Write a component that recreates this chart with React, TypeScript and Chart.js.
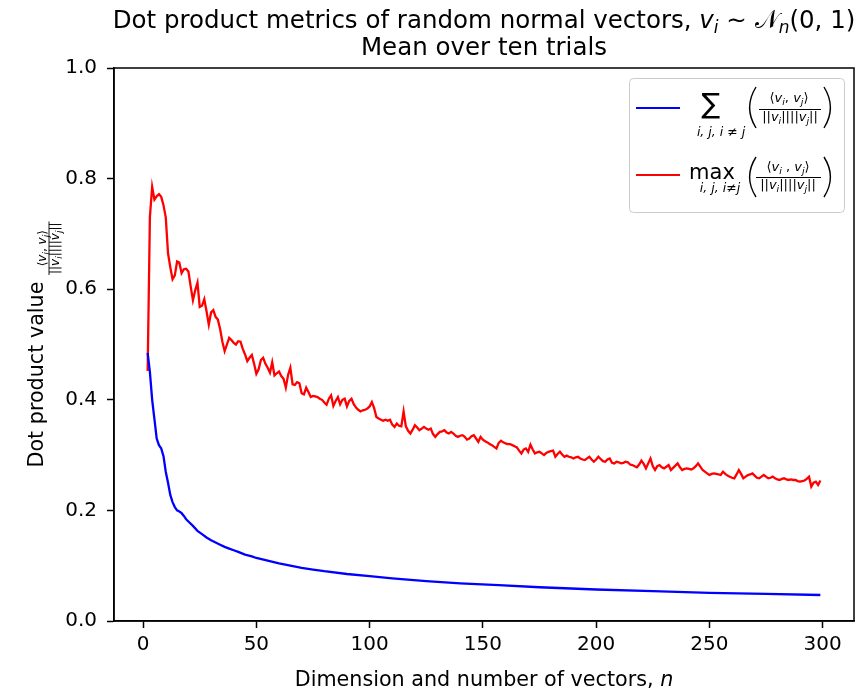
import React, { useEffect, useRef } from "react";
import { Chart, registerables } from "chart.js";
Chart.register(...registerables);

const FONT = "'DejaVu Sans', 'Liberation Sans', sans-serif";

// ---- data ----
const maxDimensions = [
  2, 3, 4, 5, 6, 7, 8, 9, 10, 11,
  12, 13, 14, 15, 16, 17, 18, 19, 20, 21,
  22, 23, 24, 25, 26, 27, 28, 29, 30, 31,
  32, 33, 34, 35, 36, 37, 38, 39, 40, 41,
  42, 43, 44, 45, 46, 47, 48, 49, 50, 51,
  52, 53, 54, 55, 56, 57, 58, 59, 60, 61,
  62, 63, 64, 65, 66, 67, 68, 69, 70, 71,
  72, 73, 74, 75, 76, 77, 78, 79, 80, 81,
  82, 83, 84, 85, 86, 87, 88, 89, 90, 91,
  92, 93, 94, 95, 96, 97, 98, 99, 100, 101,
  102, 103, 104, 105, 106, 107, 108, 109, 110, 111,
  112, 113, 114, 115, 116, 117, 118, 119, 120, 121,
  122, 123, 124, 125, 126, 127, 128, 129, 130, 131,
  132, 133, 134, 135, 136, 137, 138, 139, 140, 141,
  142, 143, 144, 145, 146, 147, 148, 149, 150, 151,
  152, 153, 154, 155, 156, 157, 158, 159, 160, 161,
  162, 163, 164, 165, 166, 167, 168, 169, 170, 171,
  172, 173, 174, 175, 176, 177, 178, 179, 180, 181,
  182, 183, 184, 185, 186, 187, 188, 189, 190, 191,
  192, 193, 194, 195, 196, 197, 198, 199, 200, 201,
  202, 203, 204, 205, 206, 207, 208, 209, 210, 211,
  212, 213, 214, 215, 216, 217, 218, 219, 220, 221,
  222, 223, 224, 225, 226, 227, 228, 229, 230, 231,
  232, 233, 234, 235, 236, 237, 238, 239, 240, 241,
  242, 243, 244, 245, 246, 247, 248, 249, 250, 251,
  252, 253, 254, 255, 256, 257, 258, 259, 260, 261,
  262, 263, 264, 265, 266, 267, 268, 269, 270, 271,
  272, 273, 274, 275, 276, 277, 278, 279, 280, 281,
  282, 283, 284, 285, 286, 287, 288, 289, 290, 291,
  292, 293, 294, 295, 296, 297, 298, 299,
];

const maxValues = [
  0.452, 0.731, 0.785, 0.762, 0.768, 0.772, 0.767, 0.752, 0.730, 0.665,
  0.640, 0.618, 0.625, 0.650, 0.648, 0.629, 0.636, 0.637, 0.632, 0.605,
  0.580, 0.598, 0.612, 0.568, 0.570, 0.582, 0.560, 0.536, 0.558, 0.562,
  0.550, 0.545, 0.528, 0.505, 0.488, 0.500, 0.512, 0.508, 0.503, 0.500,
  0.506, 0.505, 0.492, 0.482, 0.470, 0.476, 0.481, 0.465, 0.447, 0.455,
  0.472, 0.476, 0.465, 0.458, 0.449, 0.468, 0.444, 0.448, 0.451, 0.443,
  0.438, 0.422, 0.445, 0.458, 0.428, 0.427, 0.432, 0.430, 0.412, 0.410,
  0.422, 0.414, 0.405, 0.407, 0.406, 0.405, 0.402, 0.400, 0.395, 0.391,
  0.402, 0.408, 0.389, 0.398, 0.405, 0.392, 0.400, 0.402, 0.388, 0.398,
  0.402, 0.392, 0.386, 0.382, 0.379, 0.381, 0.382, 0.384, 0.388, 0.396,
  0.385, 0.369, 0.366, 0.364, 0.362, 0.364, 0.362, 0.364, 0.355, 0.351,
  0.357, 0.353, 0.352, 0.379, 0.352, 0.344, 0.339, 0.346, 0.354, 0.350,
  0.345, 0.348, 0.351, 0.348, 0.346, 0.348, 0.338, 0.333, 0.338, 0.342,
  0.343, 0.345, 0.341, 0.339, 0.342, 0.339, 0.335, 0.333, 0.335, 0.336,
  0.333, 0.328, 0.330, 0.334, 0.336, 0.330, 0.324, 0.333, 0.328, 0.325,
  0.323, 0.320, 0.318, 0.315, 0.312, 0.322, 0.326, 0.323, 0.321, 0.320,
  0.320, 0.318, 0.316, 0.314, 0.308, 0.303, 0.310, 0.312, 0.306, 0.319,
  0.310, 0.303, 0.305, 0.306, 0.303, 0.300, 0.304, 0.306, 0.307, 0.308,
  0.297, 0.302, 0.306, 0.301, 0.297, 0.299, 0.297, 0.296, 0.294, 0.296,
  0.297, 0.294, 0.292, 0.291, 0.294, 0.297, 0.292, 0.288, 0.292, 0.297,
  0.293, 0.289, 0.288, 0.292, 0.294, 0.286, 0.285, 0.288, 0.287, 0.285,
  0.286, 0.288, 0.287, 0.283, 0.282, 0.280, 0.278, 0.283, 0.290, 0.284,
  0.276, 0.285, 0.294, 0.280, 0.273, 0.280, 0.282, 0.278, 0.276, 0.279,
  0.282, 0.273, 0.277, 0.281, 0.285, 0.278, 0.273, 0.275, 0.276, 0.275,
  0.274, 0.276, 0.280, 0.285, 0.279, 0.273, 0.270, 0.267, 0.264, 0.266,
  0.267, 0.266, 0.265, 0.264, 0.270, 0.266, 0.263, 0.261, 0.259, 0.258,
  0.265, 0.273, 0.266, 0.258, 0.261, 0.264, 0.265, 0.267, 0.263, 0.259,
  0.258, 0.261, 0.264, 0.261, 0.258, 0.259, 0.261, 0.258, 0.256, 0.255,
  0.257, 0.258, 0.256, 0.255, 0.256, 0.255, 0.255, 0.253, 0.252, 0.253,
  0.254, 0.257, 0.261, 0.243, 0.250, 0.252, 0.246, 0.254,
];

const meanDimensions = [
  2, 3, 4, 5, 6, 7, 8, 9, 10, 11, 12, 13, 14, 15, 16, 17, 18, 19, 20,
  22, 24, 26, 28, 30, 32, 34, 36, 38, 40, 42, 45, 48, 50, 55, 60, 65,
  70, 75, 80, 90, 100, 110, 125, 140, 157, 175, 200, 225, 250, 275, 299,
];
const meanValues = [
  0.485, 0.450, 0.400, 0.365, 0.330, 0.318, 0.312, 0.298, 0.270, 0.250,
  0.228, 0.215, 0.206, 0.200, 0.198, 0.195, 0.190, 0.184, 0.180,
  0.172, 0.163, 0.157, 0.151, 0.146, 0.142, 0.138, 0.134, 0.131, 0.128,
  0.125, 0.120, 0.117, 0.114, 0.109, 0.104, 0.100,
  0.096, 0.093, 0.090, 0.085, 0.081, 0.077, 0.072, 0.068, 0.065, 0.061,
  0.057, 0.054, 0.051, 0.049, 0.047,
];

const xTicks = [0, 50, 100, 150, 200, 250, 300];
const yTicks = [0.0, 0.2, 0.4, 0.6, 0.8, 1.0];
const X_MIN = -12.85;
const X_MAX = 313.85;

const titleLine1 = "Dot product metrics of random normal vectors, ";
const titleLine2 = "Mean over ten trials";
const xLabelText = "Dimension and number of vectors, ";
const yLabelText = "Dot product value ";

// ---- rich text helpers ----
type Seg = { t: string; size: number; italic?: boolean; dy?: number; family?: string };

function setFont(ctx: CanvasRenderingContext2D, s: Seg) {
  ctx.font = `${s.italic ? "italic " : ""}${s.size}px ${s.family || FONT}`;
}
function segsWidth(ctx: CanvasRenderingContext2D, segs: Seg[]) {
  let w = 0;
  for (const s of segs) {
    setFont(ctx, s);
    w += ctx.measureText(s.t).width;
  }
  return w;
}
function drawSegs(ctx: CanvasRenderingContext2D, segs: Seg[], x: number, y: number, align: "left" | "center" = "center") {
  const w = segsWidth(ctx, segs);
  let cx = align === "center" ? x - w / 2 : x;
  ctx.textAlign = "left";
  ctx.textBaseline = "alphabetic";
  for (const s of segs) {
    setFont(ctx, s);
    ctx.fillText(s.t, cx, y + (s.dy || 0));
    cx += ctx.measureText(s.t).width;
  }
  return w;
}
function drawParen(ctx: CanvasRenderingContext2D, x0: number, x1: number, yTop: number, yBot: number, left: boolean) {
  ctx.beginPath();
  const mid = (yTop + yBot) / 2;
  if (left) {
    ctx.moveTo(x1, yTop);
    ctx.quadraticCurveTo(x0 - (x1 - x0) * 0.6, mid, x1, yBot);
  } else {
    ctx.moveTo(x0, yTop);
    ctx.quadraticCurveTo(x1 + (x1 - x0) * 0.6, mid, x0, yBot);
  }
  ctx.lineWidth = 1.4;
  ctx.strokeStyle = "#000";
  ctx.stroke();
}

function numerSegs(size: number, sub: number, spaced: boolean): Seg[] {
  return [
    { t: "\u27E8", size },
    { t: "v", size, italic: true },
    { t: "i", size: sub, italic: true, dy: size * 0.22 },
    { t: spaced ? " , " : ", ", size },
    { t: "v", size, italic: true },
    { t: "j", size: sub, italic: true, dy: size * 0.22 },
    { t: "\u27E9", size },
  ];
}
function denomSegs(size: number, sub: number): Seg[] {
  return [
    { t: "||", size },
    { t: "v", size, italic: true },
    { t: "i", size: sub, italic: true, dy: size * 0.22 },
    { t: "||||", size },
    { t: "v", size, italic: true },
    { t: "j", size: sub, italic: true, dy: size * 0.22 },
    { t: "||", size },
  ];
}

const decorPlugin = {
  id: "decor",
  afterDraw(chart: any) {
    const ctx: CanvasRenderingContext2D = chart.ctx;
    const a = chart.chartArea;
    ctx.save();
    // frame
    ctx.strokeStyle = "#000";
    ctx.lineWidth = 1.5;
    ctx.strokeRect(a.left, a.top, a.right - a.left, a.bottom - a.top);

    ctx.fillStyle = "#000";
    const cx = (a.left + a.right) / 2;
    // title
    drawSegs(ctx, [
      { t: titleLine1, size: 24.5 },
      { t: "v", size: 24.5, italic: true },
      { t: "i", size: 17, italic: true, dy: 5 },
      { t: " \u223C ", size: 24.5 },
      { t: "\uD835\uDCA9", size: 24.5 },
      { t: "n", size: 17, italic: true, dy: 5 },
      { t: "(0, 1)", size: 24.5 },
    ], cx, 28);
    drawSegs(ctx, [{ t: titleLine2, size: 24.5 }], cx, 55);

    // x label
    drawSegs(ctx, [
      { t: xLabelText, size: 20.7 },
      { t: "n", size: 20.7, italic: true },
    ], cx, 686);

    // y label (rotated)
    ctx.save();
    ctx.translate(43, (a.top + a.bottom) / 2);
    ctx.rotate(-Math.PI / 2);
    const mainW = segsWidth(ctx, [{ t: yLabelText, size: 20.7 }]);
    const nSeg = numerSegs(12, 9, false);
    const dSeg = denomSegs(12, 9);
    const fracW = Math.max(segsWidth(ctx, nSeg), segsWidth(ctx, dSeg)) + 2;
    const total = mainW + fracW;
    const sx = -total / 2;
    drawSegs(ctx, [{ t: yLabelText, size: 20.7 }], sx, 0, "left");
    const fc = sx + mainW + fracW / 2;
    drawSegs(ctx, nSeg, fc, 3);
    ctx.beginPath();
    ctx.moveTo(sx + mainW, 6);
    ctx.lineTo(sx + mainW + fracW, 6);
    ctx.lineWidth = 0.9;
    ctx.stroke();
    drawSegs(ctx, dSeg, fc, 16);
    ctx.restore();

    // legend
    ctx.beginPath();
    ctx.roundRect(629.5, 78.5, 215, 134, 4);
    ctx.fillStyle = "rgba(255,255,255,0.85)";
    ctx.fill();
    ctx.strokeStyle = "#cccccc";
    ctx.lineWidth = 1;
    ctx.stroke();

    const datasets = chart.data.datasets;
    // row 1
    ctx.beginPath();
    ctx.moveTo(636, 108);
    ctx.lineTo(680, 108);
    ctx.strokeStyle = datasets[0].borderColor;
    ctx.lineWidth = 2.2;
    ctx.stroke();
    ctx.fillStyle = "#000";
    ctx.font = `28px ${FONT}`;
    ctx.textAlign = "center";
    ctx.textBaseline = "middle";
    ctx.fillText("\u2211", 711, 106);
    drawSegs(ctx, [{ t: "i, j, i \u2260 j", size: 12.5, italic: true }], 721, 136);
    drawParen(ctx, 748, 756, 87, 128, true);
    drawSegs(ctx, numerSegs(13, 9.5, false), 789, 102);
    ctx.beginPath();
    ctx.moveTo(759, 109.5);
    ctx.lineTo(821, 109.5);
    ctx.lineWidth = 1;
    ctx.strokeStyle = "#000";
    ctx.stroke();
    drawSegs(ctx, denomSegs(13, 9.5), 790, 121);
    drawParen(ctx, 824, 832, 87, 128, false);

    // row 2
    ctx.beginPath();
    ctx.moveTo(636, 175);
    ctx.lineTo(680, 175);
    ctx.strokeStyle = datasets[1].borderColor;
    ctx.lineWidth = 2.2;
    ctx.stroke();
    ctx.fillStyle = "#000";
    drawSegs(ctx, [{ t: "max", size: 21 }], 712, 179);
    drawSegs(ctx, [{ t: "i, j, i\u2260j", size: 12.5, italic: true }], 720, 192);
    drawParen(ctx, 748, 756, 157, 197, true);
    drawSegs(ctx, numerSegs(13, 9.5, true), 788, 171);
    ctx.beginPath();
    ctx.moveTo(756, 177.5);
    ctx.lineTo(821, 177.5);
    ctx.lineWidth = 1;
    ctx.strokeStyle = "#000";
    ctx.stroke();
    drawSegs(ctx, denomSegs(13, 9.5), 788, 189);
    drawParen(ctx, 824, 832, 157, 197, false);

    ctx.restore();
  },
};

export default function App() {
  const ref = useRef<HTMLCanvasElement | null>(null);
  useEffect(() => {
    if (!ref.current) return;
    const meanData = meanDimensions.map((n, i) => ({ x: n, y: meanValues[i] }));
    const maxData = maxDimensions.map((n, i) => ({ x: n, y: maxValues[i] }));
    const tickFont = { family: FONT, size: 20 };
    const chart = new Chart(ref.current, {
      type: "line",
      data: {
        datasets: [
          { label: "mean", data: meanData, borderColor: "#0000ff", borderWidth: 2.3, pointRadius: 0, tension: 0, fill: false },
          { label: "max", data: maxData, borderColor: "#ff0000", borderWidth: 2.3, pointRadius: 0, tension: 0, fill: false },
        ],
      },
      options: {
        animation: false,
        responsive: false,
        events: [],
        layout: { padding: { top: 68, right: 4, left: 0, bottom: 0 } },
        plugins: { legend: { display: false }, tooltip: { enabled: false }, title: { display: false } },
        scales: {
          x: {
            type: "linear",
            min: X_MIN,
            max: X_MAX,
            afterBuildTicks: (s: any) => { s.ticks = xTicks.map((v) => ({ value: v })); },
            afterFit: (s: any) => { s.height = 70; },
            grid: { drawOnChartArea: false, drawTicks: true, tickLength: 7, tickWidth: 1.5, tickColor: "#000" },
            border: { display: true, color: "#000", width: 1.5 },
            ticks: { font: tickFont, color: "#000", padding: 5, maxRotation: 0, autoSkip: false, callback: (v: any) => String(v) },
          },
          y: {
            type: "linear",
            min: 0,
            max: 1,
            afterBuildTicks: (s: any) => { s.ticks = yTicks.map((v) => ({ value: v })); },
            afterFit: (s: any) => { s.width = 114; },
            grid: { drawOnChartArea: false, drawTicks: true, tickLength: 7, tickWidth: 1.5, tickColor: "#000" },
            border: { display: true, color: "#000", width: 1.5 },
            ticks: { font: tickFont, color: "#000", padding: 10, autoSkip: false, callback: (v: any) => Number(v).toFixed(1) },
          },
        },
      },
      plugins: [decorPlugin],
    } as any);
    return () => chart.destroy();
  }, []);
  return (
    <div style={{ position: "absolute", left: 0, top: 0, width: 858, height: 691, background: "#fff" }}>
      <canvas ref={ref} width={858} height={691} style={{ display: "block" }} />
    </div>
  );
}
